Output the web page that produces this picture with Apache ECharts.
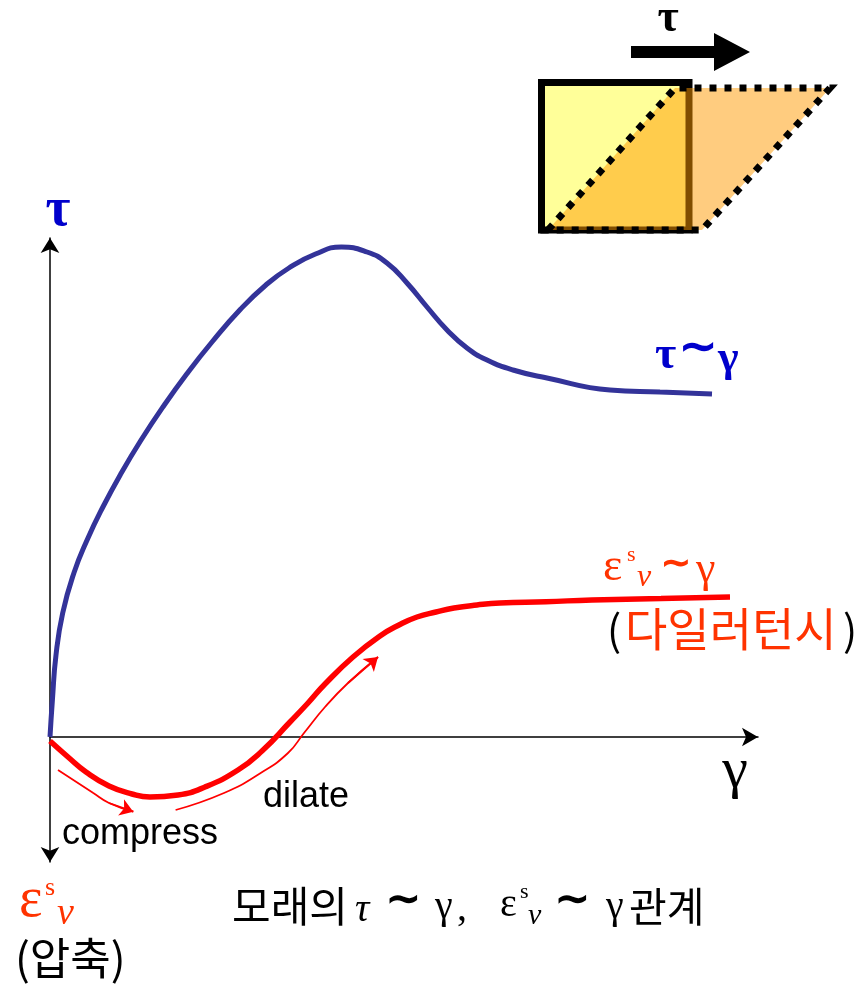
<!DOCTYPE html>
<html>
<head>
<meta charset="utf-8">
<script src="https://cdn.jsdelivr.net/npm/echarts@6/dist/echarts.min.js"></script>
<style>
  html, body { margin: 0; padding: 0; background: #fff; }
  #chart { width: 859px; height: 984px; }
</style>
</head>
<body>
<div id="chart"></div>
<script>
// Shear strain γ against shear stress τ of the sand (arbitrary units)
const tauStrain = [0, 0.24, 0.6, 1.27, 2.39, 3.71, 5.29, 7.13, 9.11, 11.29, 13.67, 16.2, 19.07, 21.59, 23.89,
                   26.55, 29.15, 31.7, 33.7, 35.7, 37.7, 39.7, 41.7, 43.7, 46.3, 49.7, 56.0, 61.0, 66.2];
const tauStress = [0, 3.7, 8.2, 12.4, 16.4, 19.7, 23.0, 26.4, 29.7, 33.0, 36.3, 39.5, 42.8, 45.2, 46.9,
                   48.3, 49.0, 48.5, 47.4, 45.4, 43.0, 40.7, 38.9, 37.7, 36.7, 35.9, 34.7, 34.5, 34.3];

// Shear strain γ against volumetric strain ε_v (negative = compression)
const volStrain = [0, 1.8, 3.6, 5.9, 8.2, 10.0, 12.8, 15.5, 18.8, 21.2, 24.0, 25.8, 27.5, 30.3, 33.0, 34.9,
                   36.7, 38.6, 40.4, 42.7, 45.0, 49.6, 54.2, 61.1, 68.0];
const volChange = [-0.4, -2.0, -3.5, -4.9, -5.7, -6.0, -5.8, -5.0, -3.3, -1.4, 1.5, 3.4, 5.3, 8.0, 10.1, 11.2,
                   12.0, 12.5, 12.9, 13.2, 13.4, 13.53, 13.7, 13.85, 14.0];

// Guide arrows along the ε_v curve
const compressX = [0.8, 4.33, 5.9, 8.33];
const compressY = [-3.3, -5.6, -6.6, -7.47];
const dilateX = [12.56, 17.4, 21.07, 23.8, 25.4, 27.5, 29.8, 32.8];
const dilateY = [-7.3, -5.6, -3.6, -1.6, 0.4, 3.0, 5.4, 8.0];

const zip = (xs, ys) => xs.map((x, i) => [x, ys[i]]);
const lastSeg = (xs, ys) => {
  const n = xs.length;
  return { coords: [[xs[n - 2], ys[n - 2]], [xs[n - 1], ys[n - 1]]] };
};

const SERIF = '"Liberation Serif", "DejaVu Serif", serif';
const TILDE = '"DejaVu Sans", sans-serif';
const SANS = '"Liberation Sans", Arial, sans-serif';
const KR = '"Noto Sans CJK KR", sans-serif';
const BLUE_TXT = '#0000cc';
const RED_TXT = '#ff3300';

function txt(x, y, text, font, fill, align) {
  return {
    type: 'text', x: x, y: y, z: 100,
    style: {
      text: text, font: font, fill: fill,
      align: align || 'left', textAlign: align || 'left',
      verticalAlign: 'middle', textVerticalAlign: 'middle'
    }
  };
}

const chart = echarts.init(document.getElementById('chart'));

const graphics = [
  // shear box: original square
  { type: 'rect', shape: { x: 541.5, y: 82.5, width: 147.5, height: 147.5 },
    style: { fill: '#ffff99', stroke: '#000', lineWidth: 7 }, z: 10 },
  // sheared shape
  { type: 'polygon', shape: { points: [[548, 230], [675, 88], [830, 88], [702, 230]] },
    style: { fill: 'rgba(255,153,0,0.5)' }, z: 11 },
  { type: 'polygon', shape: { points: [[548, 230], [675, 88], [830, 88], [702, 230]] },
    style: { fill: 'none', stroke: '#000', lineWidth: 7, lineDash: [7, 8] }, z: 12 },
  // shear direction arrow
  { type: 'polygon', shape: { points: [[631, 46], [714, 46], [714, 33], [750, 52], [714, 71], [714, 58], [631, 58]] },
    style: { fill: '#000' }, z: 12 },
  txt(668, 19, 'τ', 'bold 46px ' + SERIF, '#000', 'center'),

  // axis names
  txt(58, 211, 'τ', 'bold 54px ' + SERIF, BLUE_TXT, 'center'),
  txt(735, 772, 'γ', '58px ' + SERIF, '#000', 'center'),

  // τ∼γ
  txt(655, 356, 'τ', 'bold 46px ' + SERIF, BLUE_TXT),
  txt(678, 350, '∼', 'bold 48px ' + TILDE, BLUE_TXT),
  txt(718, 360, 'γ', 'bold 44px ' + SERIF, BLUE_TXT),

  // ε_v^s ∼ γ
  txt(603, 568, 'ε', '46px ' + SERIF, RED_TXT),
  txt(627, 555, 's', '22px ' + SERIF, RED_TXT),
  txt(637, 578, 'v', 'italic 32px ' + SERIF, RED_TXT),
  txt(660, 565, '∼', 'bold 38px ' + TILDE, RED_TXT),
  txt(696, 570, 'γ', '44px ' + SERIF, RED_TXT),
  txt(607, 630, '(', '42px ' + KR, '#000'),
  txt(625, 629, '다일러턴시', '46px ' + KR, RED_TXT),
  txt(843, 630, ')', '42px ' + KR, '#000'),

  // guide arrow captions
  txt(263, 797, 'dilate', '36px ' + SANS, '#000'),
  txt(62, 834, 'compress', '36px ' + SANS, '#000'),

  // ε_v^s (압축)
  txt(19, 901, 'ε', '56px ' + SERIF, RED_TXT),
  txt(45, 888, 's', '26px ' + SERIF, RED_TXT),
  txt(57, 914, 'v', 'italic 38px ' + SERIF, RED_TXT),
  txt(15, 958, '(압축)', '44px ' + KR, '#000'),

  // caption: 모래의τ∼ γ,  ε_v^s∼ γ관계
  txt(232, 906, '모래의', '42px ' + KR, '#000'),
  txt(355, 910, 'τ', 'italic 40px ' + SERIF, '#000'),
  txt(385, 902, '∼', 'bold 44px ' + TILDE, '#000'),
  txt(435, 907, 'γ', '40px ' + SERIF, '#000'),
  txt(457, 909, ',', '40px ' + SERIF, '#000'),
  txt(500, 905, 'ε', '40px ' + SERIF, '#000'),
  txt(520, 892, 's', '22px ' + SERIF, '#000'),
  txt(528, 916, 'v', 'italic 30px ' + SERIF, '#000'),
  txt(554, 902, '∼', 'bold 44px ' + TILDE, '#000'),
  txt(606, 907, 'γ', '40px ' + SERIF, '#000'),
  txt(629, 906, '관계', '41px ' + KR, '#000')
];

chart.setOption({
  animation: false,
  backgroundColor: '#ffffff',
  grid: { left: 50, top: 238, width: 708, height: 624, containLabel: false },
  xAxis: {
    type: 'value', min: 0, max: 70.8,
    axisLine: { show: true, onZero: true, symbol: ['none', 'arrow'], symbolSize: [14, 16],
                lineStyle: { color: '#000', width: 1.5 } },
    axisTick: { show: false }, axisLabel: { show: false }, splitLine: { show: false }
  },
  yAxis: {
    type: 'value', min: -12.5, max: 49.9,
    axisLine: { show: true, onZero: true, symbol: ['arrow', 'arrow'], symbolSize: [14, 15],
                lineStyle: { color: '#000', width: 1.5 } },
    axisTick: { show: false }, axisLabel: { show: false }, splitLine: { show: false }
  },
  series: [
    {
      name: 'τ∼γ', type: 'line', data: zip(tauStrain, tauStress),
      smooth: 0.5, showSymbol: false, z: 5,
      lineStyle: { color: '#333399', width: 5 }
    },
    {
      name: 'εv∼γ', type: 'line', data: zip(volStrain, volChange),
      smooth: 0.5, showSymbol: false, z: 5,
      lineStyle: { color: '#ff0000', width: 5.5 }
    },
    {
      name: 'compress', type: 'line', data: zip(compressX, compressY),
      smooth: 0.5, showSymbol: false, z: 4,
      lineStyle: { color: '#ff0000', width: 1.8 }
    },
    {
      name: 'dilate', type: 'line', data: zip(dilateX, dilateY),
      smooth: 0.5, showSymbol: false, z: 4,
      lineStyle: { color: '#ff0000', width: 1.8 }
    },
    {
      name: 'arrowheads', type: 'lines', coordinateSystem: 'cartesian2d', z: 4,
      symbol: ['none', 'arrow'], symbolSize: 13,
      lineStyle: { color: '#ff0000', width: 1.8, opacity: 1 },
      data: [lastSeg(compressX, compressY), lastSeg(dilateX, dilateY)]
    }
  ],
  graphic: graphics
});
</script>
</body>
</html>
